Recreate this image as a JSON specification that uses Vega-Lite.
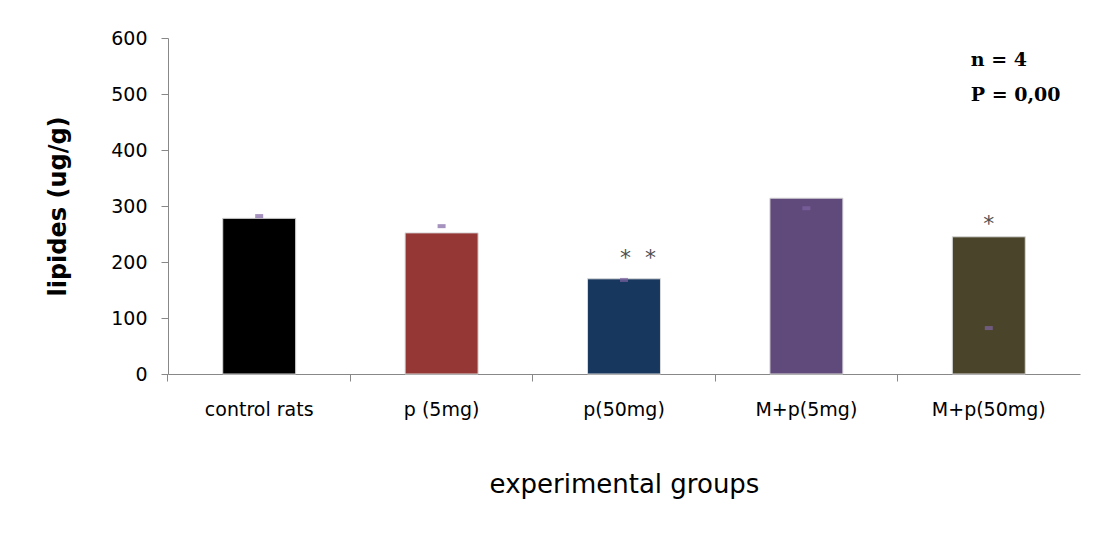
{
  "$schema": "https://vega.github.io/schema/vega-lite/v6.json",
  "autosize": "none",
  "width": 912,
  "height": 336,
  "padding": {"left": 168, "top": 38, "right": 16, "bottom": 159},
  "background": "white",
  "config": {"view": {"stroke": null}},
  "datasets": {
    "bars": [
      {"group": "control rats", "lipides": 278, "marker": 282, "star": "", "color": "#000000"},
      {"group": "p (5mg)", "lipides": 252, "marker": 264, "star": "", "color": "#953735"},
      {"group": "p(50mg)", "lipides": 170, "marker": 168, "star": "*\u00a0\u00a0*", "color": "#17375E"},
      {"group": "M+p(5mg)", "lipides": 314, "marker": 296, "star": "", "color": "#604A7B"},
      {"group": "M+p(50mg)", "lipides": 245, "marker": 82, "star": "*", "color": "#4A452A"}
    ],
    "notes": [
      {"group": "M+p(50mg)", "y": 561, "text": "n = 4"},
      {"group": "M+p(50mg)", "y": 498, "text": "P = 0,00"}
    ]
  },
  "encoding": {
    "x": {
      "field": "group",
      "type": "nominal",
      "sort": null,
      "scale": {"paddingInner": 0.6, "paddingOuter": 0.3},
      "axis": {
        "title": "experimental groups",
        "titleFont": "DejaVu Sans",
        "titleFontSize": 26,
        "titleFontWeight": "normal",
        "titleColor": "#000000",
        "titlePadding": 52,
        "labelFont": "DejaVu Sans",
        "labelFontSize": 19,
        "labelColor": "#000000",
        "labelAngle": 0,
        "labelPadding": 19,
        "domainColor": "#888888",
        "tickColor": "#888888",
        "tickSize": 7,
        "bandPosition": -0.75
      }
    }
  },
  "layer": [
    {
      "data": {"name": "bars"},
      "mark": {"type": "bar", "stroke": "#d8d8d8", "strokeWidth": 1},
      "encoding": {
        "y": {
          "field": "lipides",
          "type": "quantitative",
          "scale": {"domain": [0, 600]},
          "axis": {
            "title": "lipides (ug/g)",
            "titleFont": "DejaVu Sans",
            "titleFontSize": 24,
            "titleFontWeight": "bold",
            "titleColor": "#000000",
            "titlePadding": 40,
            "values": [0, 100, 200, 300, 400, 500, 600],
            "grid": false,
            "labelFont": "DejaVu Sans",
            "labelFontSize": 19,
            "labelColor": "#000000",
            "labelPadding": 14,
            "domainColor": "#888888",
            "tickColor": "#888888",
            "tickSize": 7
          }
        },
        "color": {"field": "color", "type": "nominal", "scale": null}
      }
    },
    {
      "data": {"name": "bars"},
      "mark": {"type": "tick", "color": "#8064A2", "size": 8, "thickness": 4},
      "encoding": {
        "y": {"field": "marker", "type": "quantitative"}
      }
    },
    {
      "data": {"name": "bars"},
      "mark": {"type": "text", "font": "DejaVu Sans", "fontSize": 22, "color": "#505050", "dx": 14, "baseline": "middle"},
      "transform": [{"filter": "datum.group == 'p(50mg)'"}],
      "encoding": {
        "y": {"datum": 208, "type": "quantitative"},
        "text": {"field": "star"}
      }
    },
    {
      "data": {"name": "bars"},
      "mark": {"type": "text", "font": "DejaVu Sans", "fontSize": 22, "color": "#505050", "baseline": "middle"},
      "transform": [{"filter": "datum.group == 'M+p(50mg)'"}],
      "encoding": {
        "y": {"datum": 267, "type": "quantitative"},
        "text": {"field": "star"}
      }
    },
    {
      "data": {"name": "notes"},
      "mark": {"type": "text", "font": "DejaVu Serif", "fontSize": 19, "fontWeight": "bold", "color": "#000000", "align": "left", "baseline": "middle", "dx": -18},
      "encoding": {
        "y": {"field": "y", "type": "quantitative"},
        "text": {"field": "text"}
      }
    }
  ]
}
